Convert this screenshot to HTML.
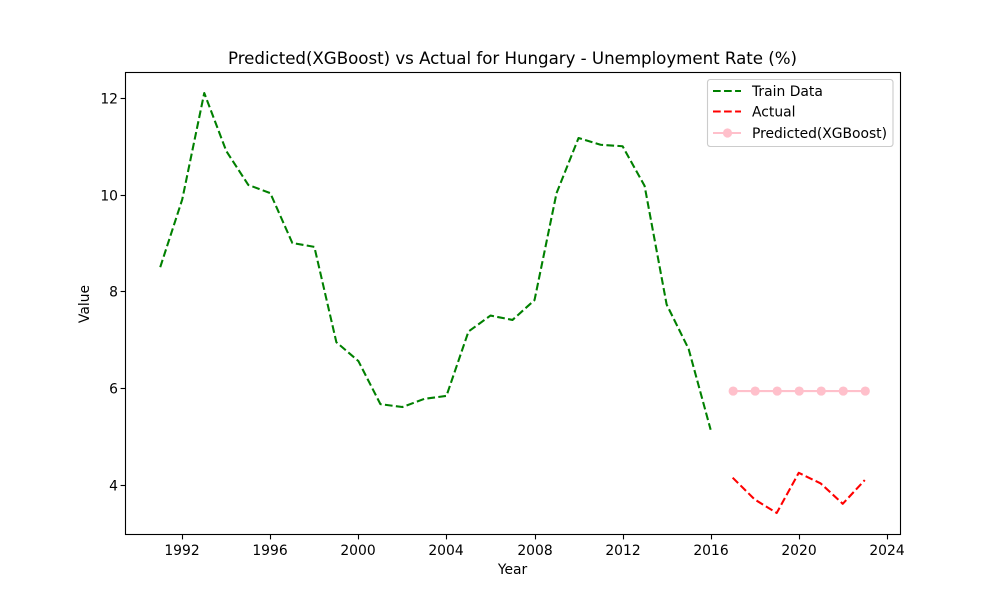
<!DOCTYPE html>
<html lang="en">
<head>
<meta charset="utf-8">
<title>Predicted(XGBoost) vs Actual for Hungary - Unemployment Rate (%)</title>
<style>
  html, body { margin: 0; padding: 0; background: #fff; }
  svg { display: block; }
  text { font-family: "DejaVu Sans", "Liberation Sans", sans-serif; fill: #000; }
</style>
</head>
<body>
<svg id="chart" xmlns="http://www.w3.org/2000/svg" width="1000" height="600" viewBox="0 0 1000 600">
  <rect x="0" y="0" width="1000" height="600" fill="#fff"/>
  <rect x="125" y="72" width="775" height="462" fill="#fff"/>
  <g id="ticks"></g>
  <g id="series"></g>
  <rect x="125.5" y="72.5" width="775" height="462" fill="none" stroke="#000" stroke-width="1.11"/>
  <text x="512.5" y="64" font-size="16.67" text-anchor="middle" textLength="569" lengthAdjust="spacing">Predicted(XGBoost) vs Actual for Hungary - Unemployment Rate (%)</text>
  <text x="512.5" y="574" font-size="13.89" text-anchor="middle">Year</text>
  <text x="89" y="304" font-size="13.89" text-anchor="middle" transform="rotate(-90 89 304)">Value</text>
  <g>
    <rect x="707.5" y="79.5" width="185.5" height="67" rx="2.8" ry="2.8" fill="#fff" fill-opacity="0.8" stroke="#ccc" stroke-width="1.11"/>
    <line x1="713" y1="91" x2="741" y2="91" stroke="#008000" stroke-width="2.08" stroke-dasharray="7.7 3.33"/>
    <text x="752" y="96" font-size="13.89">Train Data</text>
    <line x1="713" y1="111.5" x2="741" y2="111.5" stroke="#ff0000" stroke-width="2.08" stroke-dasharray="7.7 3.33"/>
    <text x="752" y="116.5" font-size="13.89">Actual</text>
    <line x1="713" y1="133" x2="741" y2="133" stroke="#ffc0cb" stroke-width="2.08"/>
    <circle cx="727.5" cy="133" r="4.6" fill="#ffc0cb"/>
    <text x="752" y="138" font-size="13.89" textLength="135" lengthAdjust="spacing">Predicted(XGBoost)</text>
  </g>
</svg>
<script>
const trainYears = [1991,1992,1993,1994,1995,1996,1997,1998,1999,2000,2001,2002,2003,2004,2005,2006,2007,2008,2009,2010,2011,2012,2013,2014,2015,2016];
const trainValues = [8.5,9.9,12.1,10.9,10.2,10.03,9.0,8.92,6.95,6.56,5.67,5.61,5.78,5.84,7.17,7.5,7.41,7.82,10.03,11.17,11.03,11.0,10.18,7.73,6.81,5.14];
const testYears = [2017,2018,2019,2020,2021,2022,2023];
const actualValues = [4.15,3.7,3.42,4.25,4.03,3.61,4.1];
const predictedValues = [5.94,5.94,5.94,5.94,5.94,5.94,5.94];
const xTickLabels = ["1992","1996","2000","2004","2008","2012","2016","2020","2024"];
const yTickLabels = ["4","6","8","10","12"];

const SVG_NS = "http://www.w3.org/2000/svg";
const xDomainMin = 1989.4, xDomainMax = 2024.6;
const yDomainMin = 2.986, yDomainMax = 12.534;
const plotLeft = 125, plotRight = 900, plotTop = 72, plotBottom = 534;

function xScale(v) {
  return plotLeft + (v - xDomainMin) / (xDomainMax - xDomainMin) * (plotRight - plotLeft);
}
function yScale(v) {
  return plotBottom - (v - yDomainMin) / (yDomainMax - yDomainMin) * (plotBottom - plotTop);
}
function make(tag, attrs, parent) {
  const el = document.createElementNS(SVG_NS, tag);
  for (const k in attrs) el.setAttribute(k, attrs[k]);
  parent.appendChild(el);
  return el;
}
function pointsOf(xs, ys) {
  return xs.map((x, i) => xScale(x).toFixed(2) + "," + yScale(ys[i]).toFixed(2)).join(" ");
}

const ticksGroup = document.getElementById("ticks");
const seriesGroup = document.getElementById("series");

xTickLabels.forEach((label) => {
  const px = Math.round(xScale(Number(label))) + 0.5;
  const tick = make("line", { x1: px, x2: px, y1: plotBottom + 0.5, y2: plotBottom + 5.4, stroke: "#000", "stroke-width": 1.11 }, ticksGroup);
  
  
  const text = make("text", { x: px - 0.5, y: 555, "font-size": 13.89, "text-anchor": "middle" }, ticksGroup);
  
  
  text.textContent = label;
});

yTickLabels.forEach((label) => {
  const py = Math.round(yScale(Number(label))) + 0.5;
  const tick = make("line", { x1: plotLeft + 0.5, x2: plotLeft - 4.4, y1: py, y2: py, stroke: "#000", "stroke-width": 1.11 }, ticksGroup);
  
  
  const text = make("text", { x: 118, y: py + 5, "font-size": 13.89, "text-anchor": "end" }, ticksGroup);
  
  
  text.textContent = label;
});

const trainLine = make("polyline", { points: pointsOf(trainYears, trainValues), fill: "none", stroke: "#008000", "stroke-width": 2.08, "stroke-dasharray": "7.7 3.33", "stroke-linejoin": "round" }, seriesGroup);



const actualLine = make("polyline", { points: pointsOf(testYears, actualValues), fill: "none", stroke: "#ff0000", "stroke-width": 2.08, "stroke-dasharray": "7.7 3.33", "stroke-linejoin": "round" }, seriesGroup);



const predictedLine = make("polyline", { points: pointsOf(testYears, predictedValues), fill: "none", stroke: "#ffc0cb", "stroke-width": 2.08, "stroke-linejoin": "round" }, seriesGroup);



testYears.forEach((year, i) => {
  const dot = make("circle", { cx: (xScale(year) + 0.5).toFixed(2), cy: yScale(predictedValues[i]).toFixed(2), r: 4.6, fill: "#ffc0cb" }, seriesGroup);
  
  
});
</script>
</body>
</html>
